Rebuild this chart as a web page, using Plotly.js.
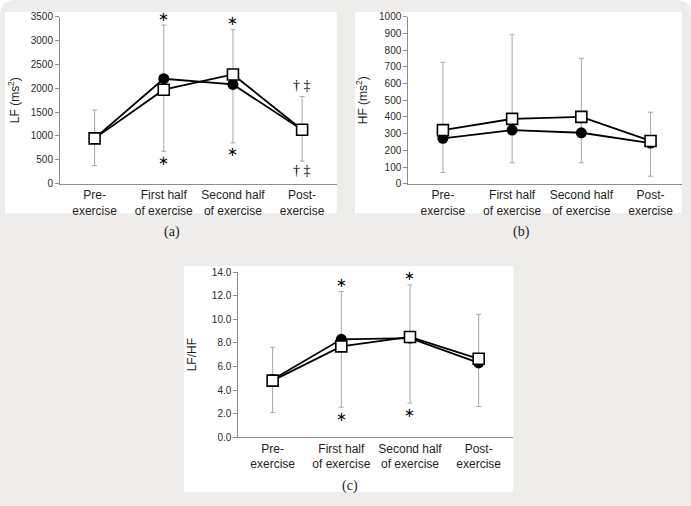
<!DOCTYPE html>
<html>
<head>
<meta charset="utf-8">
<script src="https://cdn.plot.ly/plotly-3.0.1.min.js"></script>
<style>html,body{margin:0;padding:0;background:#fff;}#chart{width:691px;height:506px;}</style>
</head>
<body>
<div id="chart"></div>
<script>
// ---- data ----
var categories = ['Pre-<br>exercise', 'First half<br>of exercise', 'Second half<br>of exercise', 'Post-<br>exercise'];
var xIdx = [0, 1, 2, 3];

var lfCircle = [950, 2200, 2080, 1130];
var lfSquare = [950, 1970, 2290, 1130];
var lfUpper  = [1545, 3325, 3235, 1825];
var lfLower  = [380, 680, 855, 475];
var lfMarkAbove = ['', '∗', '∗', '† ‡'];
var lfMarkBelow = ['', '∗', '∗', '† ‡'];

var hfCircle = [272, 321, 305, 243];
var hfSquare = [321, 388, 400, 256];
var hfUpper  = [727, 892, 751, 428];
var hfLower  = [67, 125, 125, 45];

var rCircle = [4.9, 8.3, 8.4, 6.3];
var rSquare = [4.8, 7.7, 8.5, 6.65];
var rUpper  = [7.62, 12.35, 12.9, 10.42];
var rLower  = [2.1, 2.55, 2.9, 2.6];
var rMarkAbove = ['', '∗', '∗', ''];
var rMarkBelow = ['', '∗', '∗', ''];

// ---- helpers ----
var W = 691, H = 506;
function px(x){ return x / W; }
function py(y){ return 1 - y / H; }

var traces = [];
var annotations = [];
var starFont = {family: 'DejaVu Sans', size: 13, color: '#000'};
var dagFont = {family: 'Liberation Serif', size: 14, color: '#000'};

function addPanel(n, circ, sq, up, lo, above, below) {
  var xa = n === 1 ? 'x' : 'x' + n;
  var ya = n === 1 ? 'y' : 'y' + n;
  traces.push({
    x: xIdx, y: lo, xaxis: xa, yaxis: ya, type: 'scatter', mode: 'markers',
    marker: {size: 1, color: 'rgba(0,0,0,0)'}, hoverinfo: 'skip', showlegend: false,
    error_y: {type: 'data', symmetric: false,
      array: up.map(function(v, i){ return v - lo[i]; }),
      arrayminus: lo.map(function(){ return 0; }),
      color: '#a8a8a8', thickness: 1, width: 2.5}
  });
  traces.push({
    x: xIdx, y: circ, xaxis: xa, yaxis: ya, type: 'scatter', mode: 'lines+markers',
    line: {color: '#000', width: 1.8},
    marker: {symbol: 'circle', size: 11, color: '#000'}, showlegend: false
  });
  traces.push({
    x: xIdx, y: sq, xaxis: xa, yaxis: ya, type: 'scatter', mode: 'lines+markers',
    line: {color: '#000', width: 1.8},
    marker: {symbol: 'square', size: 11, color: '#fff', line: {color: '#000', width: 1.6}}, showlegend: false
  });
  if (above) {
    above.forEach(function(t, i){
      if (!t) return;
      var dag = t.indexOf('†') >= 0;
      annotations.push({xref: xa, yref: ya, x: i, y: up[i], text: t, showarrow: false,
        yanchor: 'middle', yshift: dag ? 11 : 9, font: dag ? dagFont : starFont});
    });
  }
  if (below) {
    below.forEach(function(t, i){
      if (!t) return;
      var dag = t.indexOf('†') >= 0;
      annotations.push({xref: xa, yref: ya, x: i, y: lo[i], text: t, showarrow: false,
        yanchor: 'middle', yshift: -9, font: dag ? dagFont : starFont});
    });
  }
}

addPanel(1, lfCircle, lfSquare, lfUpper, lfLower, lfMarkAbove, lfMarkBelow);
addPanel(2, hfCircle, hfSquare, hfUpper, hfLower, null, null);
addPanel(3, rCircle, rSquare, rUpper, rLower, rMarkAbove, rMarkBelow);

var tickFont = {family: 'Liberation Sans, Arial, sans-serif', size: 10, color: '#2a2a2a'};
var catFont = {family: 'Liberation Sans, Arial, sans-serif', size: 12, color: '#1e1e1e'};
var titleFont = {family: 'Liberation Sans, Arial, sans-serif', size: 12, color: '#1e1e1e'};

function xAxis(d0, d1, r1, anchor) {
  return {domain: [px(d0), px(d1)], range: [-0.5, r1], anchor: anchor,
    tickvals: xIdx, ticktext: categories, tickfont: catFont, ticks: '',
    showgrid: false, zeroline: false, showline: true, linecolor: '#8c8c8c', linewidth: 1,
    fixedrange: true};
}
function yAxis(t0, t1, range, dtick, fmt, title, anchor, standoff) {
  return {domain: [py(t1), py(t0)], range: range, dtick: dtick, tick0: 0, tickformat: fmt, anchor: anchor,
    ticks: 'outside', ticklen: 4, tickcolor: '#8c8c8c', tickwidth: 1,
    tickfont: tickFont, showgrid: false, zeroline: false, showline: true, linecolor: '#8c8c8c', linewidth: 1,
    title: {text: title, font: titleFont, standoff: standoff}, fixedrange: true};
}

var gray = '#efedeb';
var shapes = [
  {type: 'path', xref: 'paper', yref: 'paper', layer: 'below', line: {width: 0}, fillcolor: gray,
   path: 'M' + px(0) + ',' + py(H) + ' L' + px(0) + ',' + py(15) + ' Q' + px(0) + ',' + py(0) + ' ' + px(15) + ',' + py(0) +
         ' L' + px(W - 15) + ',' + py(0) + ' Q' + px(W) + ',' + py(0) + ' ' + px(W) + ',' + py(15) + ' L' + px(W) + ',' + py(H) + ' Z'},
  {type: 'rect', xref: 'paper', yref: 'paper', layer: 'below', line: {width: 0}, fillcolor: '#fff',
   x0: px(5), x1: px(336.7), y0: py(213.3), y1: py(12)},
  {type: 'rect', xref: 'paper', yref: 'paper', layer: 'below', line: {width: 0}, fillcolor: '#fff',
   x0: px(355), x1: px(681.7), y0: py(213.3), y1: py(12)},
  {type: 'rect', xref: 'paper', yref: 'paper', layer: 'below', line: {width: 0}, fillcolor: '#fff',
   x0: px(184), x1: px(513.3), y0: py(491.7), y1: py(266)}
];

var capFont = {family: 'Liberation Serif, serif', size: 14, color: '#222'};
annotations.push({xref: 'paper', yref: 'paper', x: px(172), y: py(232), text: '(a)', showarrow: false, font: capFont, xanchor: 'center', yanchor: 'middle'});
annotations.push({xref: 'paper', yref: 'paper', x: px(521.7), y: py(232), text: '(b)', showarrow: false, font: capFont, xanchor: 'center', yanchor: 'middle'});
annotations.push({xref: 'paper', yref: 'paper', x: px(350), y: py(486), text: '(c)', showarrow: false, font: capFont, xanchor: 'center', yanchor: 'middle'});

var layout = {
  width: W, height: H, margin: {l: 0, r: 0, t: 0, b: 0},
  paper_bgcolor: '#fff', plot_bgcolor: 'rgba(0,0,0,0)', showlegend: false,
  xaxis: xAxis(60, 336.7, 3.5, 'y'),
  yaxis: yAxis(16.7, 183.7, [0, 3500], 500, '', 'LF (ms<sup>2</sup>)', 'x', 8),
  xaxis2: xAxis(408.3, 681.7, 3.45, 'y2'),
  yaxis2: yAxis(16.7, 183.7, [0, 1000], 100, '', 'HF (ms<sup>2</sup>)', 'x2', 8),
  xaxis3: xAxis(238.3, 513, 3.5, 'y3'),
  yaxis3: yAxis(272, 437.3, [0, 14], 2, '.1f', 'LF/HF', 'x3', 12),
  shapes: shapes, annotations: annotations
};

Plotly.newPlot('chart', traces, layout, {staticPlot: true, displayModeBar: false});
</script>
</body>
</html>
